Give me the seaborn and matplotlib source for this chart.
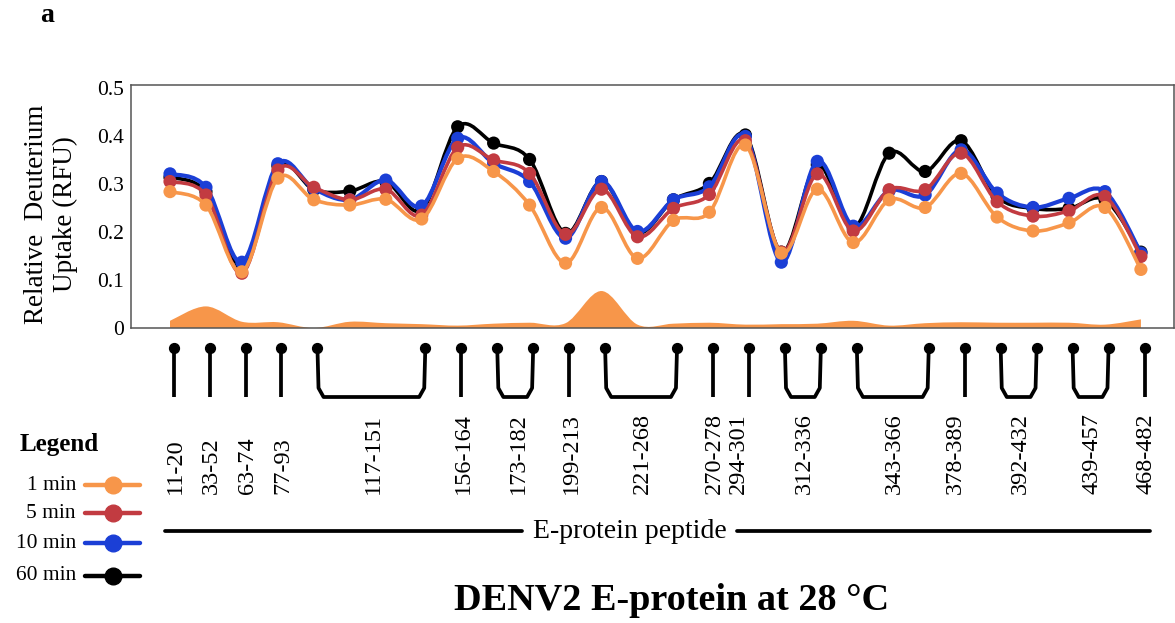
import numpy as np
import pandas as pd
import matplotlib
matplotlib.use('Agg')
import matplotlib.pyplot as plt
from matplotlib.path import Path
from matplotlib.patches import PathPatch
from matplotlib.lines import Line2D
import seaborn as sns

# Peptide positions along the E-protein (one per measured point)
point_idx = list(range(28))

uptake_1min = [0.284, 0.256, 0.117, 0.312, 0.267, 0.256, 0.268, 0.227, 0.353, 0.326,
               0.256, 0.135, 0.251, 0.145, 0.224, 0.241, 0.381, 0.156, 0.289, 0.178,
               0.267, 0.251, 0.322, 0.231, 0.202, 0.219, 0.251, 0.122]
uptake_5min = [0.305, 0.277, 0.114, 0.329, 0.293, 0.267, 0.289, 0.235, 0.376, 0.350,
               0.322, 0.195, 0.289, 0.190, 0.249, 0.278, 0.390, 0.158, 0.321, 0.202,
               0.288, 0.288, 0.364, 0.263, 0.233, 0.244, 0.274, 0.149]
uptake_10min = [0.321, 0.293, 0.137, 0.342, 0.290, 0.267, 0.308, 0.254, 0.395, 0.343,
                0.305, 0.187, 0.305, 0.201, 0.267, 0.294, 0.399, 0.137, 0.347, 0.212,
                0.286, 0.277, 0.371, 0.281, 0.251, 0.270, 0.284, 0.156]
uptake_60min = [0.314, 0.284, 0.130, 0.338, 0.288, 0.285, 0.305, 0.246, 0.419, 0.385,
                0.351, 0.197, 0.305, 0.198, 0.267, 0.301, 0.402, 0.158, 0.340, 0.208,
                0.364, 0.326, 0.390, 0.274, 0.249, 0.249, 0.267, 0.158]
# orange band at the bottom
uptake_spread = [0.015, 0.045, 0.013, 0.012, 0.000, 0.013, 0.010, 0.008, 0.005, 0.009,
                 0.011, 0.010, 0.077, 0.007, 0.009, 0.011, 0.007, 0.008, 0.009, 0.015,
                 0.005, 0.010, 0.012, 0.011, 0.011, 0.011, 0.007, 0.018]

# peptide label, first point, last point
peptides = ["11-20", "33-52", "63-74", "77-93", "117-151", "156-164", "173-182",
            "199-213", "221-268", "270-278", "294-301", "312-336", "343-366",
            "378-389", "392-432", "439-457", "468-482"]
pep_first = [0, 1, 2, 3, 4, 8, 9, 11, 12, 15, 16, 17, 19, 22, 23, 25, 27]
pep_last = [0, 1, 2, 3, 7, 8, 10, 11, 14, 15, 16, 18, 21, 22, 24, 26, 27]

times = ["1 min", "5 min", "10 min", "60 min"]
series = {"1 min": uptake_1min, "5 min": uptake_5min,
          "10 min": uptake_10min, "60 min": uptake_60min}
colors = {"1 min": "#f7964a", "5 min": "#c23b41", "10 min": "#1b3fd6", "60 min": "#000000"}

df = pd.DataFrame([(t, i, v) for t in times for i, v in zip(point_idx, series[t])],
                  columns=["time", "pos", "uptake"])

# label nudges for crowded labels (layout only)
label_nudge = {"270-278": 0.05, "294-301": -0.3, "378-389": -0.25, "173-182": 0.1}

W, H = 1175, 623
sns.set_theme(style="white")
plt.rcParams['font.family'] = ['Liberation Serif', 'DejaVu Serif']
plt.rcParams['text.color'] = 'black'
plt.rcParams['ytick.color'] = 'black'


def smooth(x, y):
    # smoothed (Excel-like) bezier path through the points
    n = len(x)
    verts = [(x[0], y[0])]
    codes = [Path.MOVETO]
    for i in range(n - 1):
        a = max(i - 1, 0)
        b = min(i + 2, n - 1)
        c1 = (x[i] + (x[i + 1] - x[a]) / 6, y[i] + (y[i + 1] - y[a]) / 6)
        c2 = (x[i + 1] - (x[b] - x[i]) / 6, y[i + 1] - (y[b] - y[i]) / 6)
        verts += [c1, c2, (x[i + 1], y[i + 1])]
        codes += [Path.CURVE4] * 3
    return verts, codes


fig = plt.figure(figsize=(W / 100, H / 100), dpi=100)
fig.patch.set_facecolor('white')

left, right, top, bottom = 131, 1174, 85, 328
ax = fig.add_axes([left / W, 1 - bottom / H, (right - left) / W, (bottom - top) / H])
x0 = (left - 170) / 35.96
x1 = (right - 170) / 35.96
ax.set_xlim(x0, x1)
ax.set_ylim(0, 0.506)

# orange area
v, c = smooth(point_idx, uptake_spread)
v = v + [(point_idx[-1], 0), (point_idx[0], 0), (point_idx[0], uptake_spread[0])]
c = c + [Path.LINETO, Path.LINETO, Path.CLOSEPOLY]
ax.add_patch(PathPatch(Path(v, c), facecolor="#f7964a", edgecolor="none", zorder=1))

z = 2
for t in ["60 min", "10 min", "5 min", "1 min"]:
    sub = df[df["time"] == t]
    v, c = smooth(list(sub["pos"]), list(sub["uptake"]))
    ax.add_patch(PathPatch(Path(v, c), facecolor="none", edgecolor=colors[t],
                           lw=3.0 if t == "10 min" else 2.6, zorder=z, capstyle='round'))
    sns.scatterplot(data=sub, x="pos", y="uptake", color=colors[t], s=90,
                    edgecolor="none", legend=False, ax=ax, zorder=z + 0.5)
    z += 1

ax.set_xlabel("")
ax.set_ylabel("")
ax.set_xticks([])
ax.set_yticks([0, 0.1, 0.2, 0.3, 0.4, 0.5])
ax.set_yticklabels(["0", "0.1", "0.2", "0.3", "0.4", "0.5"], fontsize=15.5, color="black")
ax.tick_params(axis='y', length=0, pad=5)
for s in ax.spines.values():
    s.set_color("#555555")
    s.set_linewidth(1.1)

# annotation layer below the plot, x shared with data, y in pixels
ann = fig.add_axes([left / W, 0, (right - left) / W, 1])
ann.set_xlim(x0, x1)
ann.set_ylim(H, 0)
ann.axis('off')
ann.patch.set_alpha(0)

off = 0.1
for lab, f, l in zip(peptides, pep_first, pep_last):
    xa, xb = f + off, l + off
    if f == l:
        ann.plot([xa, xa], [348, 397], color="black", lw=2.7, solid_capstyle='butt')
        ann.scatter([xa], [348], s=50, color="black", zorder=3)
        xc = xa
    else:
        ann.plot([xa, xa + 0.03, xa + 0.17, xb - 0.17, xb - 0.03, xb],
                 [348, 388, 397, 397, 388, 348], color="black", lw=2.7)
        ann.scatter([xa, xb], [348, 348], s=50, color="black", zorder=3)
        xc = (xa + xb) / 2
    ann.text(xc + label_nudge.get(lab, 0.05), 494, lab, rotation=90, ha='center',
             va='bottom', fontsize=17.5, color="black")

# E-protein peptide axis line
px = lambda p: (p - 170) / 35.96
ann.plot([px(165), px(522)], [531, 531], color="black", lw=2.7)
ann.plot([px(737), px(1150)], [531, 531], color="black", lw=2.7)
ann.text(px(629.5), 531, "E-protein peptide", ha='center', va='center', fontsize=20)

# y label
fig.text(51 / W, 1 - 214 / H, "Relative  Deuterium\nUptake (RFU)", rotation=90,
         ha='center', va='center', fontsize=19.5, linespacing=1.2, multialignment='center')

# legend
fig.text(20 / W, 1 - 445 / H, "Legend", ha='left', va='center', fontsize=18, fontweight='bold')
for t, yy in zip(times, [485, 513, 543, 576]):
    yf = 1 - yy / H
    fig.text(76 / W, yf, t, ha='right', va='center', fontsize=15.5)
    fig.add_artist(Line2D([85 / W, 113 / W, 140 / W], [yf, yf, yf], transform=fig.transFigure,
                          color=colors[t], lw=3.2, marker='o', markersize=12, markevery=[1]))

fig.text(672 / W, 1 - 600 / H, "DENV2 E-protein at 28 \u00b0C", ha='center', va='center',
         fontsize=27.5, fontweight='bold')
fig.text(47 / W, 1 - 16 / H, "a", ha='center', va='center', fontsize=20, fontweight='bold')

fig.savefig("out.png", dpi=100, facecolor='white')
